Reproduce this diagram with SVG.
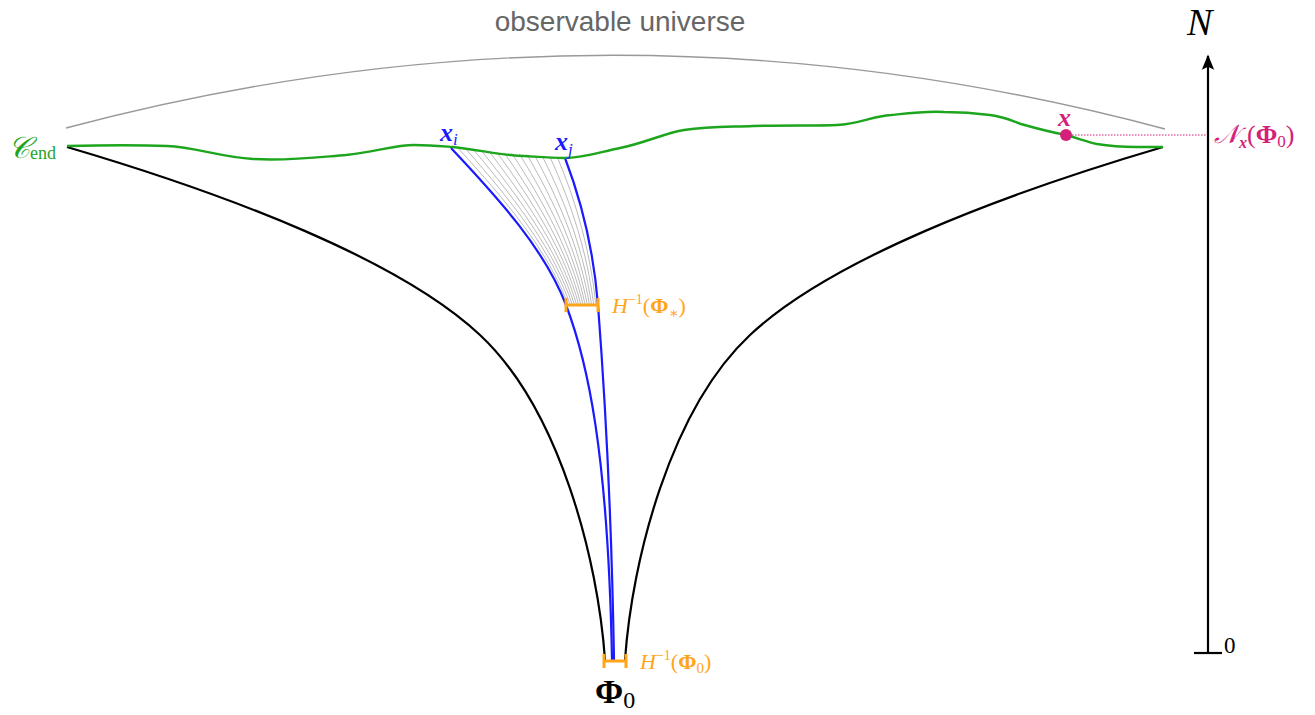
<svg xmlns="http://www.w3.org/2000/svg" width="1315" height="715" viewBox="0 0 1315 715">
<defs>
<style>
.serif{font-family:"Liberation Serif","DejaVu Serif",serif}
.black{fill:none;stroke:#000;stroke-width:2.2}
.blue{fill:none;stroke:#1a1aff;stroke-width:2.2}
.gray{fill:none;stroke:#aaa;stroke-width:0.8}
.orange{fill:none;stroke:#ffa51a;stroke-width:3}
.olab{fill:#ffa51a;font-size:22px;font-style:italic}
</style>
<marker id="arr" viewBox="0 0 10 10" refX="9" refY="5" markerWidth="7" markerHeight="7" orient="auto">
<path d="M0,1 L10,5 L0,9 L2,5 Z" fill="#000"/>
</marker>
</defs>
<rect width="1315" height="715" fill="#fff"/>

<g id="observable">
<path d="M66,128 Q615,-18 1165,129" fill="none" stroke="#999" stroke-width="1.4"/>
<text x="620" y="31" text-anchor="middle" font-family="Liberation Sans,Arial,sans-serif" font-size="28" fill="#666">observable universe</text>
</g>

<g id="funnel">
<path class="black" d="M67,147 C230,195 400,260 480,335 C560,410 598,560 605,660"/>
<path class="black" d="M625,660 C632,560 670,410 750,335 C830,260 1000,195 1163,147"/>
</g>

<g id="bundle">
<path class="gray" d="M458.6,148.7 C505.5,200.3 548.3,250.3 568.1,305"/>
<path class="gray" d="M466.2,149.3 C511.1,200.7 551.5,250.7 570.3,305"/>
<path class="gray" d="M473.8,150 C516.6,201 554.8,251 572.4,305"/>
<path class="gray" d="M481.4,150.7 C522.1,201.3 558.1,251.3 574.5,305"/>
<path class="gray" d="M489,151.3 C527.7,201.7 561.3,251.7 576.7,305"/>
<path class="gray" d="M496.6,152 C533.2,202 564.6,252 578.8,305"/>
<path class="gray" d="M504.2,152.7 C538.7,202.3 567.9,252.3 580.9,305"/>
<path class="gray" d="M511.8,153.3 C544.3,202.7 571.1,252.7 583.1,305"/>
<path class="gray" d="M519.4,154 C549.8,203 574.4,253 585.2,305"/>
<path class="gray" d="M527,154.7 C555.3,203.3 577.7,253.3 587.3,305"/>
<path class="gray" d="M534.6,155.3 C560.9,203.7 580.9,253.7 589.5,305"/>
<path class="gray" d="M542.2,156 C566.4,204 584.2,254 591.6,305"/>
<path class="gray" d="M549.8,156.7 C571.9,204.3 587.5,254.3 593.7,305"/>
<path class="gray" d="M557.4,157.3 C577.5,204.7 590.7,254.7 595.9,305"/>
</g>

<g id="trajectories">
<path class="blue" d="M451,148 C500,200 545,250 566,305 C587,360 608,450 612,660"/>
<path class="blue" d="M565,158 C583,205 594,255 598,305 C603,370 611,480 614,660"/>
</g>

<g id="cend">
<path d="M67,146 C110,145 140,145 167,146 C195,147 220,157 253,159 C290,161 320,157 346,155 C375,152 395,145 414,145 C430,145 440,146 453,147 C480,150 505,156 524,156 C540,157 552,158 564,158 C585,158 600,152 620,148 C645,143 665,133 684,130 C710,126 730,127 753,126 C790,125 815,126 837,125 C860,124 872,116 891,115 C910,113 925,111 944,112 C965,112 975,113 990,115 C1005,117 1010,120 1021,124 C1035,128 1050,132 1066,135 C1080,139 1088,142 1097,144 C1115,147 1125,147 1136,147 L1163,147" fill="none" stroke="#1ea51e" stroke-width="2.4"/>
<text x="8" y="158" class="serif" fill="#1ea51e" font-size="30" font-style="italic">𝒞<tspan font-size="18" font-style="normal" dy="1">end</tspan></text>
</g>

<g id="hstar">
<path class="orange" d="M566,305 H598 M566,298 V312 M598,298 V312"/>
<text x="612" y="313" class="serif olab">H<tspan font-size="14" font-style="normal" dy="-9">−1</tspan><tspan font-style="normal" dy="9">(</tspan><tspan font-style="normal" font-weight="bold">Φ</tspan><tspan font-size="15" font-style="normal" dy="5">∗</tspan><tspan font-style="normal" dy="-5">)</tspan></text>
</g>

<g id="h0">
<path class="orange" d="M604,661 H626 M604,654 V668 M626,654 V668"/>
<text x="640" y="669" class="serif olab">H<tspan font-size="14" font-style="normal" dy="-9">−1</tspan><tspan font-style="normal" dy="9">(</tspan><tspan font-style="normal" font-weight="bold">Φ</tspan><tspan font-size="15" font-style="normal" dy="4">0</tspan><tspan font-style="normal" dy="-4">)</tspan></text>
</g>

<g id="phi0">
<text x="595" y="703" class="serif" font-size="34" fill="#000"><tspan font-weight="bold">Φ</tspan><tspan font-size="24" dy="5">0</tspan></text>
</g>

<g id="xi">
<text x="440" y="141" class="serif" font-size="26" font-weight="bold" font-style="italic" fill="#1a1aff">x<tspan font-size="17" font-weight="normal" dy="4">i</tspan></text>
</g>
<g id="xj">
<text x="555" y="150" class="serif" font-size="26" font-weight="bold" font-style="italic" fill="#1a1aff">x<tspan font-size="17" font-weight="normal" dy="5">j</tspan></text>
</g>

<g id="xpoint">
<line x1="1066" y1="135" x2="1208" y2="135" stroke="#d4207a" stroke-width="1.2" stroke-dasharray="1.5,1.5"/>
<circle cx="1066" cy="135" r="6" fill="#d4207a"/>
<text x="1058" y="126" class="serif" font-size="26" font-weight="bold" font-style="italic" fill="#d4207a">x</text>
<text x="1214" y="143" class="serif" font-size="26" font-style="italic" fill="#d4207a">𝒩<tspan font-size="16" font-weight="bold" dy="5">x</tspan><tspan font-style="normal" dy="-5">(</tspan><tspan font-style="normal" font-weight="bold">Φ</tspan><tspan font-size="17" font-style="normal" dy="4">0</tspan><tspan font-style="normal" dy="-4">)</tspan></text>
</g>

<g id="axis">
<line x1="1208" y1="653" x2="1208" y2="56" stroke="#000" stroke-width="2.2" marker-end="url(#arr)"/>
<line x1="1194" y1="653" x2="1222" y2="653" stroke="#000" stroke-width="2.2"/>
<text x="1187" y="35" class="serif" font-size="38" font-style="italic" fill="#000">N</text>
<text x="1224" y="653" class="serif" font-size="23" fill="#000">0</text>
</g>
</svg>
